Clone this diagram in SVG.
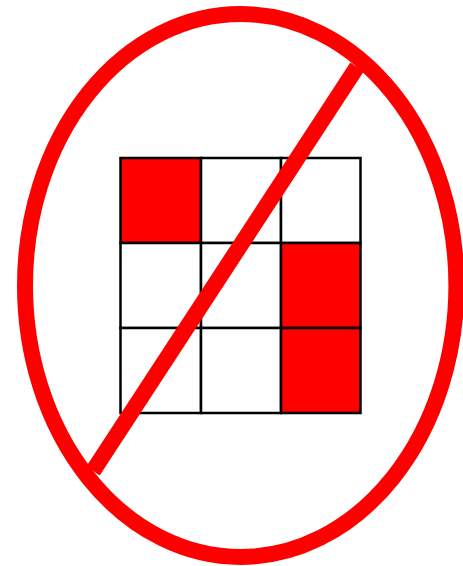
<svg xmlns="http://www.w3.org/2000/svg" width="463" height="566" viewBox="0 0 463 566">
<style>
.cell{fill:#fff;stroke:#000;stroke-width:2.5}
.on{fill:#f00}
.red{fill:none;stroke:#f00;stroke-width:16}
</style>
<rect width="463" height="566" fill="#fff"/>
<g id="grid">
<rect class="cell on" x="120.5" y="158" width="80.5" height="85"/>
<rect class="cell" x="201" y="158" width="80" height="85"/>
<rect class="cell" x="281" y="158" width="79.5" height="85"/>
<rect class="cell" x="120.5" y="243" width="80.5" height="85"/>
<rect class="cell" x="201" y="243" width="80" height="85"/>
<rect class="cell on" x="281" y="243" width="79.5" height="85"/>
<rect class="cell" x="120.5" y="328" width="80.5" height="85"/>
<rect class="cell" x="201" y="328" width="80" height="85"/>
<rect class="cell on" x="281" y="328" width="79.5" height="85"/>
</g>
<g id="sign">
<ellipse class="red" cx="240.7" cy="285.5" rx="215.7" ry="271.5"/>
<line class="red" x1="357" y1="67" x2="93" y2="471"/>
</g>
</svg>
